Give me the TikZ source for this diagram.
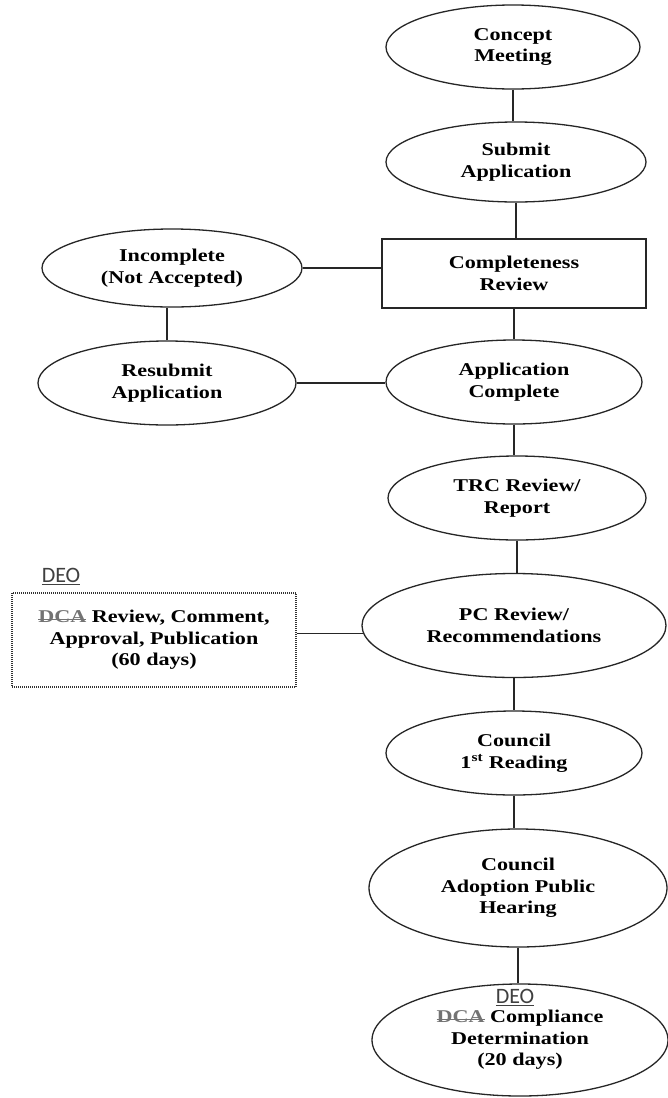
\documentclass[tikz,border=0pt]{standalone}
\usepackage{fontspec}
\setmainfont[FakeStretch=1.23]{Liberation Serif}
\newfontfamily\deofont{Carlito}
\usetikzlibrary{shapes.geometric,calc}

% struck-out agency name and the underlined replacement tag
\newsavebox{\markbox}
\newcommand{\struck}[1]{{\color{black!55}\sbox{\markbox}{#1}\rlap{\rule[0.3ex]{\wd\markbox}{1.4pt}}\usebox{\markbox}}}
\newcommand{\deotag}[1]{{\deofont\color{black!75}\sbox{\markbox}{#1}\rlap{\rule[-2.5pt]{\wd\markbox}{0.7pt}}\usebox{\markbox}}}

\tikzset{
  flow/.style={font=\bfseries\fontsize{18}{21.5}\selectfont, align=center,
               inner sep=0pt, draw=black!85, line width=1.3pt},
  oval/.style={flow, ellipse},
  stagebox/.style={flow, rectangle},
  notebox/.style={flow, rectangle, draw=black!80, line width=1.2pt,
                  dash pattern=on 1pt off 1pt},
  link/.style={draw=black!85, line width=1.3pt},
  deonote/.style={font=\deofont\fontsize{22}{24}\selectfont, inner sep=0pt, anchor=base},
}

\begin{document}
\begin{tikzpicture}[x=1pt,y=-1pt]
\fill[white] (0,0) rectangle (668,1098);
\useasboundingbox (0,0) rectangle (668,1098);

% main column
\node[oval, minimum width=254pt, minimum height=84pt] (concept) at (513,47) {Concept\\Meeting};
\node[oval, minimum width=260pt, minimum height=80pt] (submit) at (516,162) {Submit\\Application};
\node[stagebox, minimum width=264pt, minimum height=69pt] (review) at (514,273.5) {Completeness\\Review};
\node[oval, minimum width=256pt, minimum height=84pt] (complete) at (514,382) {Application\\Complete};
\node[oval, minimum width=258pt, minimum height=84pt] (trc) at (517,498) {TRC Review/\\Report};
\node[oval, minimum width=304pt, minimum height=104pt] (pc) at (514,625.5) {PC Review/\\Recommendations};
\node[oval, minimum width=256pt, minimum height=84pt] (first) at (514,753) {Council\\1\textsuperscript{st} Reading};
\node[oval, minimum width=298pt, minimum height=118pt] (adopt) at (518,888) {Council\\Adoption Public\\Hearing};
\node[oval, minimum width=296pt, minimum height=112pt] (comply) at (520,1040) {\struck{DCA} Compliance\\Determination\\(20 days)};
\node[deonote] (deob) at (515,1003) {\deotag{DEO}};

% side branch
\node[oval, minimum width=260pt, minimum height=78pt] (incomplete) at (172,268) {Incomplete\\(Not Accepted)};
\node[oval, minimum width=258pt, minimum height=84pt] (resubmit) at (167,383) {Resubmit\\Application};

% state review box
\node[notebox, minimum width=284pt, minimum height=94pt] (dca) at (154,640) {\struck{DCA} Review, Comment,\\Approval, Publication\\(60 days)};
\node[deonote] (deoa) at (61,582) {\deotag{DEO}};

% connectors
\draw[link] (concept.south) -- (concept.south |- submit.north);
\draw[link] (submit.south) -- (submit.south |- review.north);
\draw[link] (review.south) -- (review.south |- complete.north);
\draw[link] (complete.south) -- (complete.south |- trc.north);
\draw[link] (trc.south) -- (trc.south |- pc.north);
\draw[link] (pc.south) -- (pc.south |- first.north);
\draw[link] (first.south) -- (first.south |- adopt.north);
\draw[link] (adopt.south) -- (adopt.south |- comply.north);
\draw[link] (incomplete.east) -- (incomplete.east -| review.west);
\draw[link] (resubmit.east) -- (resubmit.east -| complete.west);
\draw[link] (resubmit.north) -- (resubmit.north |- incomplete.south);
\draw[link] (dca.east |- pc.183) -- (pc.183);
\end{tikzpicture}
\end{document}
